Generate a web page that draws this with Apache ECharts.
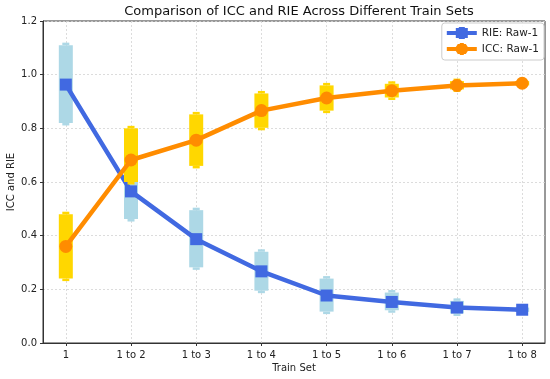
<!DOCTYPE html>
<html>
<head>
<meta charset="utf-8">
<script src="https://cdn.jsdelivr.net/npm/echarts@6/dist/echarts.min.js"></script>
<style>html,body{margin:0;padding:0;background:#fff}#c{width:550px;height:379px}</style>
</head>
<body>
<div id="c"></div>
<script>
var categories = ['1', '1 to 2', '1 to 3', '1 to 4', '1 to 5', '1 to 6', '1 to 7', '1 to 8'];
var rieValues = [0.963, 0.565, 0.387, 0.267, 0.177, 0.153, 0.132, 0.124];
var rieLow    = [0.820, 0.462, 0.282, 0.195, 0.117, 0.122, 0.110, 0.116];
var rieHigh   = [1.110, 0.668, 0.495, 0.340, 0.240, 0.188, 0.157, 0.132];
var iccValues = [0.360, 0.682, 0.756, 0.866, 0.913, 0.940, 0.960, 0.968];
var iccLow    = [0.240, 0.600, 0.660, 0.802, 0.866, 0.915, 0.945, 0.960];
var iccHigh   = [0.480, 0.800, 0.852, 0.930, 0.960, 0.966, 0.976, 0.976];
var yTicks = [0, 0.2, 0.4, 0.6, 0.8, 1.0, 1.2];

var xIdx = categories.map(function (c, i) { return i; });
function pairs(vals) { return vals.map(function (v, i) { return [i, v]; }); }
function errData(lo, hi) { return lo.map(function (l, i) { return [i, l, hi[i]]; }); }

function errRender(color) {
  return function (params, api) {
    var x = api.value(0);
    var pLo = api.coord([x, api.value(1)]);
    var pHi = api.coord([x, api.value(2)]);
    var w = 14, cw = 7, ch = 2.5;
    return {
      type: 'group',
      children: [
        { type: 'rect', shape: { x: pLo[0] - w / 2, y: pHi[1], width: w, height: pLo[1] - pHi[1] }, style: { fill: color } },
        { type: 'rect', shape: { x: pHi[0] - cw / 2, y: pHi[1] - ch, width: cw, height: ch }, style: { fill: color } },
        { type: 'rect', shape: { x: pLo[0] - cw / 2, y: pLo[1], width: cw, height: ch }, style: { fill: color } }
      ]
    };
  };
}

var font = 'DejaVu Sans';
var chart = echarts.init(document.getElementById('c'), null, { renderer: 'canvas' });
chart.setOption({
  animation: false,
  backgroundColor: '#ffffff',
  title: {
    text: 'Comparison of ICC and RIE Across Different Train Sets',
    left: 294, top: 0, textAlign: 'center',
    textStyle: { fontFamily: font, fontSize: 13, fontWeight: 'normal', color: '#111' }
  },
  legend: {
    right: 6, top: 23, orient: 'vertical',
    itemWidth: 30, itemHeight: 12, itemGap: 4,
    padding: [4, 5, 5, 5],
    borderColor: '#cccccc', borderWidth: 1, borderRadius: 3,
    backgroundColor: 'rgba(255,255,255,0.85)',
    textStyle: { fontFamily: font, fontSize: 10.5, color: '#222' },
    data: [
      { name: 'RIE: Raw-1', icon: 'path://M0,4H9V1H12V0H18V1H21V4H30V8H21V11H18V12H12V11H9V8H0Z' },
      { name: 'ICC: Raw-1', icon: 'path://M0,4H9L11,1H13V0H17V1H19L21,4H30V8H21L19,11H17V12H13V11H11L9,8H0Z' }
    ]
  },
  grid: { left: 43, right: 5, top: 21, bottom: 36, show: true, borderColor: '#333', borderWidth: 1, outerBoundsMode: 'none', containLabel: false },
  xAxis: {
    type: 'value', min: -0.35, max: 7.35,
    name: 'Train Set', nameLocation: 'middle', nameGap: 20, nameMoveOverlap: false,
    nameTextStyle: { fontFamily: font, fontSize: 10, color: '#222' },
    axisLine: { show: true, onZero: false, lineStyle: { color: '#333' } },
    axisTick: { show: true, customValues: xIdx, length: 3, lineStyle: { color: '#333' } },
    axisLabel: {
      customValues: xIdx, margin: 7,
      fontFamily: font, fontSize: 10, color: '#222',
      formatter: function (v) { return categories[Math.round(v)]; }
    },
    splitLine: { show: true, lineStyle: { color: '#d4d4d4', type: [2, 2], width: 0.8 } }
  },
  yAxis: {
    type: 'value', min: 0, max: 1.2, interval: 0.2,
    name: 'ICC and RIE', nameLocation: 'middle', nameGap: 27, nameMoveOverlap: false,
    nameTextStyle: { fontFamily: font, fontSize: 10, color: '#222' },
    axisLine: { show: true, onZero: false, lineStyle: { color: '#333' } },
    axisTick: { show: true, length: 3, lineStyle: { color: '#333' } },
    axisLabel: {
      margin: 6, fontFamily: font, fontSize: 10, color: '#222',
      formatter: function (v) { return v.toFixed(1); }
    },
    splitLine: { show: true, lineStyle: { color: '#d4d4d4', type: [2, 2], width: 0.8 } }
  },
  series: [
    {
      name: 'RIE err', type: 'custom', renderItem: errRender('#add8e6'),
      data: errData(rieLow, rieHigh), z: 2, silent: true,
      encode: { x: 0, y: [1, 2] }
    },
    {
      name: 'RIE: Raw-1', type: 'line', data: pairs(rieValues),
      symbol: 'rect', symbolSize: 12, z: 3,
      lineStyle: { color: '#4169e1', width: 4.5 },
      itemStyle: { color: '#4169e1' }
    },
    {
      name: 'ICC err', type: 'custom', renderItem: errRender('#ffd700'),
      data: errData(iccLow, iccHigh), z: 4, silent: true,
      encode: { x: 0, y: [1, 2] }
    },
    {
      name: 'ICC: Raw-1', type: 'line', data: pairs(iccValues),
      symbol: 'circle', symbolSize: 13, z: 5,
      lineStyle: { color: '#ff8c00', width: 4.5 },
      itemStyle: { color: '#ff8c00' }
    }
  ]
});
</script>
</body>
</html>
